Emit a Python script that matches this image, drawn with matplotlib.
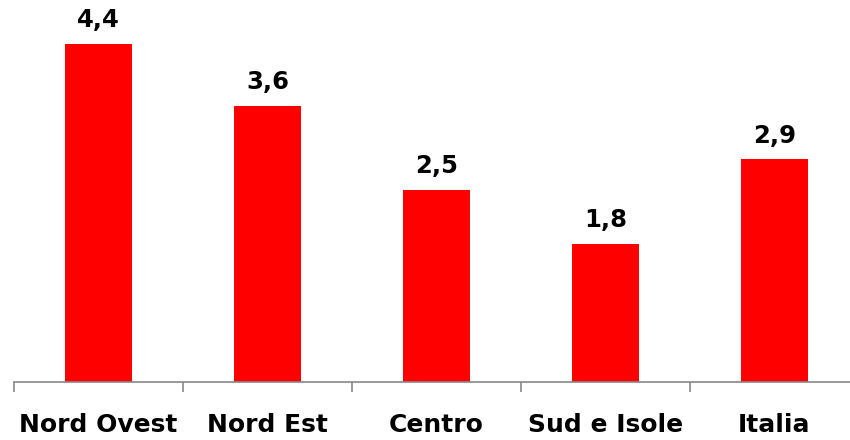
import matplotlib.pyplot as plt
import numpy as np

categories = ["Nord Ovest", "Nord Est", "Centro", "Sud e Isole", "Italia"]
values = [4.4, 3.6, 2.5, 1.8, 2.9]
value_labels = ["4,4", "3,6", "2,5", "1,8", "2,9"]

fig = plt.figure(figsize=(8.5, 4.4), dpi=100)
# axis runs slightly past the right edge, like the original screenshot
ax = fig.add_axes([14 / 850, 58 / 440, 845 / 850, 382 / 440])

x = np.arange(len(categories))
ax.bar(x, values, width=0.4, color="#ff0000")

for xi, v, lab in zip(x, values, value_labels):
    ax.annotate(lab, (xi, v), xytext=(0, 12), textcoords="offset points",
                ha="center", va="baseline", fontsize=17.5, fontweight="bold")

ax.set_xlim(-0.5, len(categories) - 0.5)
ax.set_ylim(0, 382 / 76.8)

ax.set_xticks(x)
ax.set_xticklabels(categories, fontsize=18, fontweight="bold")
ax.tick_params(axis="x", which="major", length=0, pad=22)
ax.set_xticks(np.arange(len(categories) + 1) - 0.5, minor=True)
ax.tick_params(axis="x", which="minor", length=7, color="#888888", width=1.2)

ax.set_yticks([])
for s in ["top", "right", "left"]:
    ax.spines[s].set_visible(False)
ax.spines["bottom"].set_color("#888888")
ax.spines["bottom"].set_linewidth(1.2)

fig.savefig("out.png", dpi=100)
